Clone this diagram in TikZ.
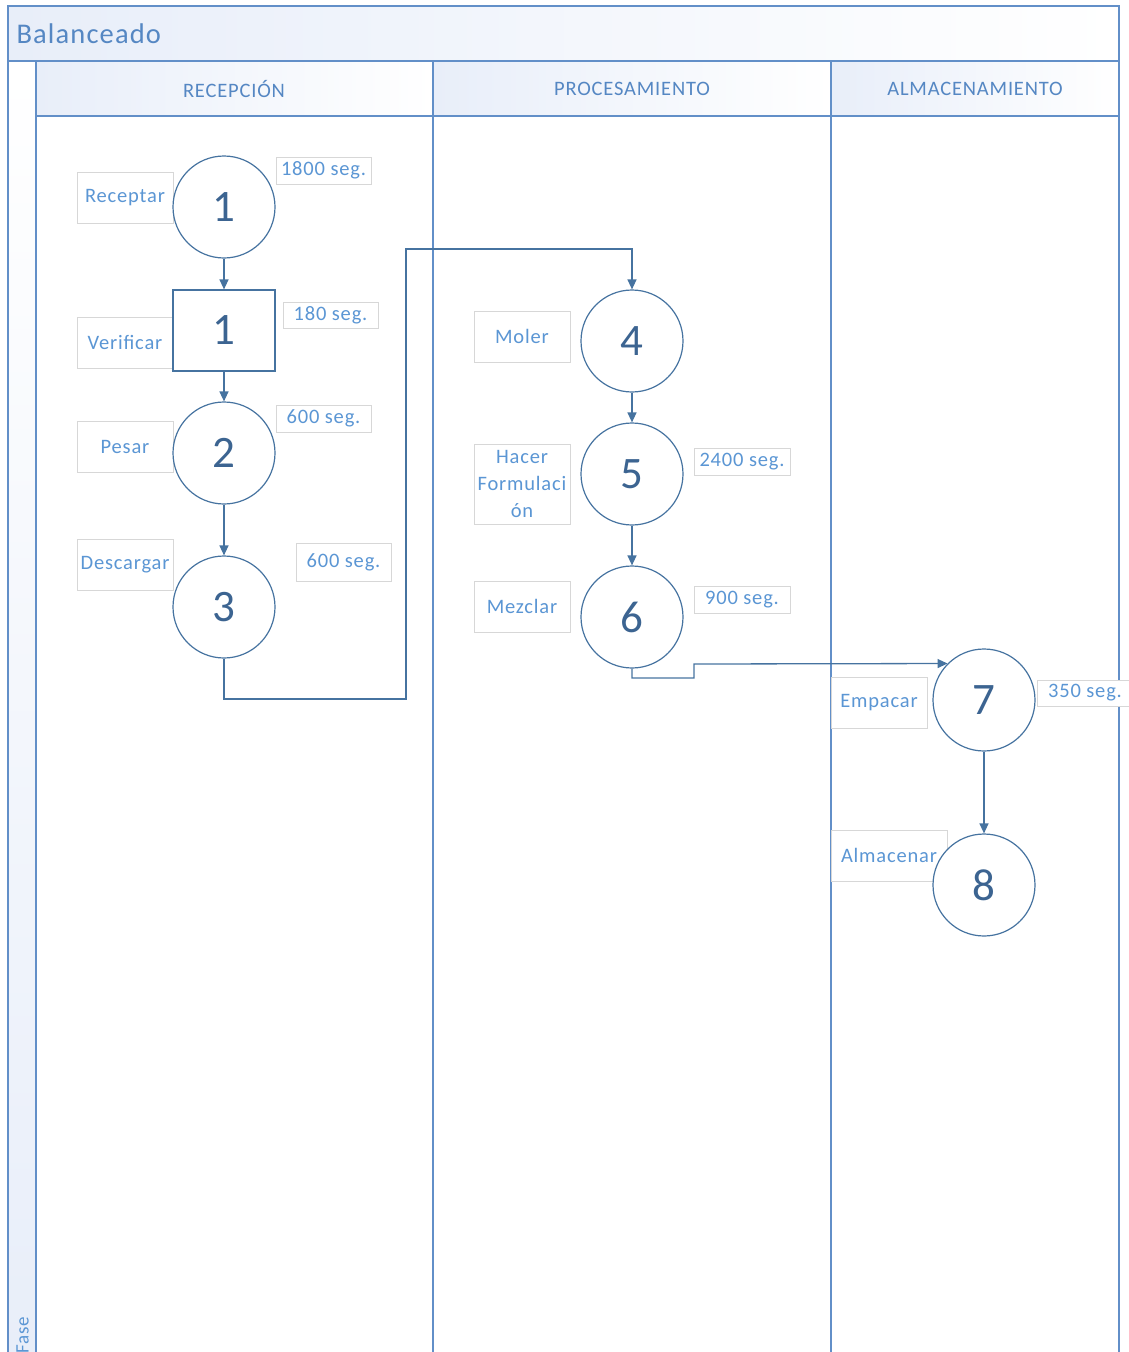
\documentclass[tikz,border=0pt]{standalone}
\usepackage{fontspec}
\setmainfont{Carlito}
\newfontfamily\lblfont[LetterSpace=4]{Carlito}
\usetikzlibrary{arrows.meta}
\definecolor{lane}{RGB}{98,143,200}
\definecolor{shp}{RGB}{70,115,160}
\definecolor{num}{RGB}{60,100,145}
\definecolor{txt}{RGB}{91,150,212}
\definecolor{hdr}{RGB}{85,135,195}
\definecolor{gbox}{RGB}{215,215,215}
\definecolor{band}{RGB}{232,238,249}
\tikzset{
  laneline/.style={draw=lane, line width=1.6pt},
  proc/.style={circle, draw=shp, line width=1.2pt, fill=white, minimum size=102pt, inner sep=0pt, text=num, font=\fontsize{45}{48}\selectfont},
  sq/.style={rectangle, draw=shp, line width=1.2pt, fill=white, minimum width=102pt, minimum height=81pt, inner sep=0pt, text=num, font=\fontsize{45}{48}\selectfont},
  lbl/.style={rectangle, draw=gbox, line width=1pt, fill=white, inner sep=0pt, text=txt, align=center, font=\lblfont\fontsize{20.5}{27}\selectfont},
  conn/.style={draw=shp, line width=1.3pt, -{Triangle[length=10pt,width=9pt]}},
  hdrtxt/.style={text=hdr, font=\lblfont\fontsize{20.5}{22}\selectfont},
}
\begin{document}
\begin{tikzpicture}[x=1pt,y=-1pt]
\useasboundingbox (0,0) rectangle (1129,1352);
% title band
\shade[left color=band, right color=white] (8,6) rectangle (1119,61);
\node[anchor=west, text=hdr, font=\lblfont\fontsize{28.5}{32}\selectfont] (title) at (13,34) {Balanceado};
% fase strip
\shade[top color=white, bottom color=band] (8,61) rectangle (36,1360);
\node[rotate=90, anchor=west, text=txt, font=\lblfont\fontsize{19}{22}\selectfont, inner sep=0pt] (fase) at (22.5,1354) {Fase};
% lane headers
\shade[left color=band, right color=white] (36,61) rectangle (433,116);
\shade[left color=band, right color=white] (433,61) rectangle (831,116);
\shade[left color=band, right color=white] (831,61) rectangle (1119,116);
\node[hdrtxt] (h1) at (234,89) {RECEPCIÓN};
\node[hdrtxt] (h2) at (632,89) {PROCESAMIENTO};
\node[hdrtxt] (h3) at (975,89) {ALMACENAMIENTO};
% frame lines
\draw[laneline] (8,1360) -- (8,6) -- (1119,6) -- (1119,1360);
\draw[laneline] (8,61) -- (1119,61);
\draw[laneline] (36,116) -- (1119,116);
\draw[laneline] (36,61) -- (36,1360);
\draw[laneline] (433,61) -- (433,1360);
\draw[laneline] (831,61) -- (831,1360);
% label boxes
\node[lbl, minimum width=96pt, minimum height=51pt] (lrec) at (125,197.5) {Receptar};
\node[lbl, minimum width=95pt, minimum height=27pt] (t1) at (323.5,170.5) {1800 seg.};
\node[lbl, minimum width=96pt, minimum height=51pt] (lver) at (125,342.5) {Verificar};
\node[lbl, minimum width=95pt, minimum height=26pt] (t2) at (330.5,315) {180 seg.};
\node[lbl, minimum width=96pt, minimum height=51pt] (lpes) at (125,446.5) {Pesar};
\node[lbl, minimum width=95pt, minimum height=27pt] (t3) at (323.5,418.5) {600 seg.};
\node[lbl, minimum width=96pt, minimum height=51pt] (ldes) at (125,564.5) {Descargar};
\node[lbl, minimum width=95pt, minimum height=38pt] (t4) at (343.5,562) {600 seg.};
\node[lbl, minimum width=96pt, minimum height=51pt] (lmol) at (522,336.5) {Moler};
\node[lbl, minimum width=96pt, minimum height=80pt] (lhac) at (522,484) {Hacer\\Formulaci\\ón};
\node[lbl, minimum width=96pt, minimum height=27pt] (t5) at (742,461.5) {2400 seg.};
\node[lbl, minimum width=96pt, minimum height=51pt] (lmez) at (522,606.5) {Mezclar};
\node[lbl, minimum width=96pt, minimum height=27pt] (t6) at (742,599.5) {900 seg.};
\node[lbl, minimum width=96pt, minimum height=51pt] (lemp) at (879,702.5) {Empacar};
\node[lbl, minimum width=96pt, minimum height=26pt] (t7) at (1085,693) {350 seg.};
\node[lbl, minimum width=116pt, minimum height=51pt] (lalm) at (889,855.5) {Almacenar};
% process shapes
\node[proc] (c1) at (224,207) {1};
\node[sq] (s1) at (224,330.5) {1};
\node[proc] (c2) at (224,453) {2};
\node[proc] (c3) at (224,607) {3};
\node[proc] (c4) at (632,341) {4};
\node[proc] (c5) at (632,474) {5};
\node[proc] (c6) at (632,617) {6};
\node[proc] (c7) at (984,700) {7};
\node[proc] (c8) at (984,885) {8};
% connectors
\draw[conn] (c1.south) -- (s1.north);
\draw[conn] (s1.south) -- (c2.north);
\draw[conn] (c2.south) -- (c3.north);
\draw[conn] (c3.south) -- (224,699) -- (406,699) -- (406,249) -- (632,249) -- (c4.north);
\draw[conn] (c4.south) -- (c5.north);
\draw[conn] (c5.south) -- (c6.north);
\draw[conn] (c6.south) -- (632,678) -- (694,678) -- (694,664) -- (c7.135);
\draw[conn] (c7.south) -- (c8.north);
\end{tikzpicture}
\end{document}
